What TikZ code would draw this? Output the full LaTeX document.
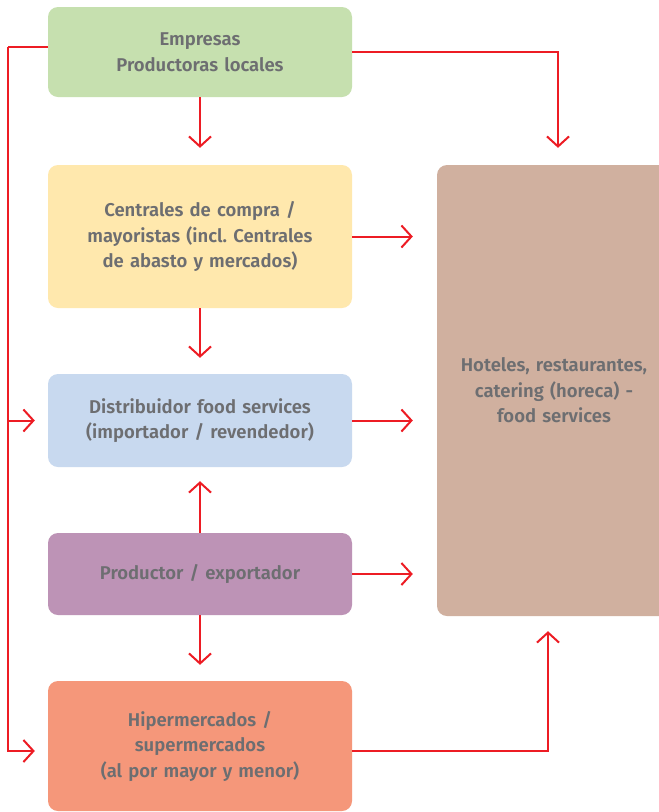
\documentclass[tikz,border=0pt]{standalone}
\usepackage{fontspec}
\setmainfont{Fira Sans SemiBold}
\usetikzlibrary{arrows.meta}
\definecolor{txt}{HTML}{6D6E71}
\definecolor{arrred}{HTML}{ED1C24}
\definecolor{cgreen}{HTML}{C6E0AF}
\definecolor{cyellow}{HTML}{FFE8AD}
\definecolor{cblue}{HTML}{C8D9EF}
\definecolor{cpurple}{HTML}{BD93B6}
\definecolor{corange}{HTML}{F5977A}
\definecolor{cbrown}{HTML}{D0B09F}
\tikzset{
  box/.style={rounded corners=10pt, minimum width=304pt, text width=296pt, align=center,
    inner sep=0pt, text=txt, font=\frenchspacing\fontsize{18.5}{25.5}\selectfont},
  rl/.style={draw=arrred, line width=2pt},
  arr/.style={rl, -{Straight Barb[length=10pt,width=22pt]}},
}
\begin{document}
\begin{tikzpicture}[x=1pt,y=-1pt]
\clip (0,0) rectangle (659,812);
\fill[white] (0,0) rectangle (659,812);
\node[box, fill=cgreen, minimum height=90pt] (emp) at (200,52) {Empresas\\Productoras locales};
\node[box, fill=cyellow, minimum height=143pt] (cen) at (200,236.5) {Centrales de compra /\\mayoristas (incl. Centrales\\de abasto y mercados)};
\node[box, fill=cblue, minimum height=93pt] (dist) at (200,420.5) {Distribuidor food services\\(importador / revendedor)};
\node[box, fill=cpurple, minimum height=82pt] (prod) at (200,574) {Productor / exportador};
\node[box, fill=corange, minimum height=130pt] (hip) at (200,746) {Hipermercados /\\supermercados\\(al por mayor y menor)};
\node[box, fill=cbrown, minimum width=234pt, text width=226pt, minimum height=451pt] (hor) at (554,390.5) {Hoteles, restaurantes,\\catering (horeca) -\\food services};
\coordinate (L) at (8,47);
\draw[rl] ([yshift=5pt]emp.west) -- (L);
\draw[arr, shorten >=13pt] (L) |- ([yshift=-5pt]hip.west);
\draw[arr, shorten >=13pt] (L |- dist.west) -- (dist.west);
\draw[arr, shorten >=17pt] (emp.east) -| ([xshift=4pt]hor.north);
\draw[arr, shorten >=15pt] ([yshift=-5pt]hip.east) -| ([xshift=-6pt]hor.south);
\draw[arr, shorten >=17pt] (emp.south) -- (cen.north);
\draw[arr, shorten >=16pt] (cen.south) -- (dist.north);
\draw[arr, shorten >=14pt] (prod.north) -- (dist.south);
\draw[arr, shorten >=16pt] (prod.south) -- (hip.north);
\draw[arr, shorten >=24pt] (cen.east) -- (cen.east -| hor.west);
\draw[arr, shorten >=24pt] (dist.east) -- (dist.east -| hor.west);
\draw[arr, shorten >=24pt] (prod.east) -- (prod.east -| hor.west);
\end{tikzpicture}
\end{document}
